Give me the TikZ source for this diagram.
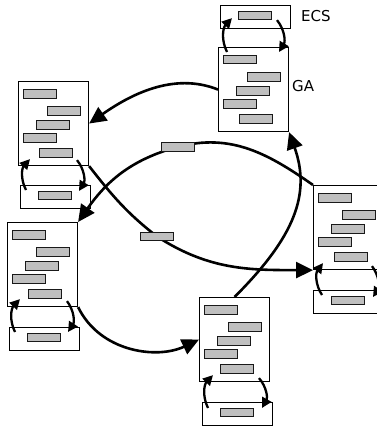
\documentclass[tikz,border=0pt]{standalone}
\usepackage{fontspec}
\setmainfont{DejaVu Sans}
\usetikzlibrary{arrows.meta,calc}
\newcommand{\agentbox}[3]{%
  \node[mainbox] (#1) at (#2,#3) {};
  \foreach \k/\dx/\dy in {1/5/8,2/29/25,3/18/39,4/5/52,5/21/67}
    \node[barbox] (#1-b\k) at ($(#1.north west)+(\dx,-\dy)$) {};
}
\newcommand{\ecsunit}[3]{%
  \node[ecsbox] (#1) at (#2,#3) {};
  \node[barbox, minimum height=8pt] (#1-b) at ($(#1.north west)+(18,-6)$) {};
}
\begin{document}
\begin{tikzpicture}[x=1pt,y=1pt,
  mainbox/.style={draw, fill=white, line width=1.1pt, minimum width=70pt, minimum height=84pt, inner sep=0pt, anchor=north west},
  ecsbox/.style={draw, fill=white, line width=1.1pt, minimum width=70pt, minimum height=23pt, inner sep=0pt, anchor=north west},
  barbox/.style={draw=black!90, fill=black!25, line width=1pt, minimum width=33pt, minimum height=8.5pt, inner sep=0pt, anchor=north west},
  conn/.style={line width=2.6pt, -{Triangle[length=17pt,width=16pt]}},
  cyc/.style={line width=2.3pt, -{Triangle[length=10pt,width=10pt]}, bend left=35},
  lbl/.style={font=\fontsize{15}{18}\selectfont, anchor=west, inner sep=0pt}]
\clip (0,0) rectangle (377,-428);
\fill[white] (0,0) rectangle (377,-428);

% boxes
\ecsunit{e1}{220}{-5}
\agentbox{ga}{218}{-47}
\agentbox{lt}{18}{-81}
\ecsunit{e2}{20}{-185}
\agentbox{lb}{7}{-222}
\ecsunit{e3}{9}{-327}
\agentbox{bm}{199}{-297}
\ecsunit{e4}{202}{-402}
\agentbox{rt}{313}{-185}
\ecsunit{e5}{313}{-290}

% labels
\node[lbl] (ecslbl) at (301,-16) {ECS};
\node[lbl] (galbl) at (292,-86) {GA};

% cycle arrows
\draw[cyc] ($(ga.north west)+(9,-5)$) to ($(e1.south west)+(12,11)$);
\draw[cyc] ($(e1.south west)+(57,9)$) to ($(ga.north west)+(61,-5)$);
\draw[cyc] ($(e2.north west)+(6,-5)$) to ($(lt.south west)+(12,7)$);
\draw[cyc] ($(lt.south west)+(59,6)$) to ($(e2.north west)+(59,-6)$);
\draw[cyc] ($(e3.north west)+(6,-5)$) to ($(lb.south west)+(13,8)$);
\draw[cyc] ($(lb.south west)+(60,6)$) to ($(e3.north west)+(59,-5)$);
\draw[cyc] ($(e4.north west)+(6,-6)$) to ($(bm.south west)+(14,7)$);
\draw[cyc] ($(bm.south west)+(60,4)$) to ($(e4.north west)+(60,-6)$);
\draw[cyc] ($(e5.north west)+(9,-5)$) to ($(rt.south west)+(10,7)$);
\draw[cyc] ($(rt.south west)+(59,4)$) to ($(e5.north west)+(60,-7)$);

% main connectors
\coordinate (m1c) at (157,-236.5);
\coordinate (m2c) at (177.5,-147);
\draw[conn] (ga.west) .. controls +(-45,18) and +(40,28) .. (lt.east);
\draw[conn] (lt.south east) to[out=-52,in=142] (m1c) to[out=-33,in=180] (rt.south west);
\draw[conn] (rt.north west) to[out=145,in=15] (m2c) to[out=195,in=55] (lb.north east);
\draw[conn] (lb.south east) .. controls +(22,-45) and +(-42,-20) .. (bm.west);
\draw[conn] (bm.north) .. controls +(60,60) and +(22,-62) .. (ga.south east);

% bars on connectors
\node[barbox, anchor=center] (m1) at (m1c) {};
\node[barbox, anchor=center] (m2) at (m2c) {};
\end{tikzpicture}
\end{document}
